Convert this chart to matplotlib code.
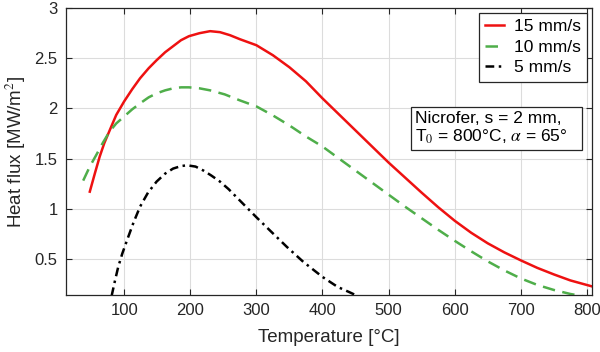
import matplotlib
matplotlib.use("Agg")
import matplotlib.pyplot as plt
from matplotlib.patches import Rectangle

plt.rcParams['font.family'] = ['Liberation Sans', 'DejaVu Sans']
plt.rcParams['mathtext.fontset'] = 'stix'

# Data
t15 = [48, 56, 63, 70, 78, 88, 100, 112, 124, 137, 149, 162, 174, 186, 198, 214, 230, 245, 260, 275, 300,
       325, 350, 375, 400, 425, 450, 475, 500, 525, 550, 575, 600, 625, 650, 675, 700, 725, 750, 775, 808]
q15 = [1.17, 1.36, 1.52, 1.655, 1.78, 1.935, 2.07, 2.19, 2.30, 2.40, 2.48, 2.56, 2.62, 2.68, 2.72, 2.75, 2.77, 2.76, 2.73, 2.69, 2.63,
       2.53, 2.41, 2.27, 2.10, 1.94, 1.78, 1.62, 1.46, 1.31, 1.16, 1.015, 0.88, 0.76, 0.655, 0.565, 0.485, 0.41, 0.345, 0.285, 0.225]

t10 = [38, 48, 59, 68, 78, 88, 100, 112, 124, 137, 149, 162, 174, 186, 198, 214, 230, 252, 275, 300,
       325, 350, 375, 400, 425, 450, 475, 500, 525, 550, 575, 600, 625, 650, 675, 700, 725, 750, 775, 800]
q10 = [1.28, 1.42, 1.55, 1.66, 1.77, 1.85, 1.92, 1.99, 2.05, 2.11, 2.15, 2.18, 2.20, 2.21, 2.21, 2.20, 2.18, 2.14, 2.08, 2.02,
       1.93, 1.83, 1.72, 1.62, 1.50, 1.38, 1.26, 1.14, 1.02, 0.905, 0.79, 0.68, 0.575, 0.475, 0.385, 0.305, 0.24, 0.19, 0.15, 0.12]

t5 = [81, 86, 91, 97, 104, 114, 124, 136, 149, 162, 174, 186, 195, 208, 220, 232, 245, 258, 270, 285, 300,
      321, 346, 371, 400, 423, 440, 453]
q5 = [0.13, 0.28, 0.42, 0.55, 0.68, 0.86, 1.02, 1.16, 1.27, 1.35, 1.40, 1.425, 1.433, 1.42, 1.38, 1.33, 1.27, 1.195, 1.115, 1.015, 0.915,
      0.78, 0.62, 0.47, 0.32, 0.22, 0.17, 0.13]

labels = ['15 mm/s', '10 mm/s', '5 mm/s']
xticks = [100, 200, 300, 400, 500, 600, 700, 800]
yticks = [0.5, 1, 1.5, 2, 2.5, 3]
yticklabels = ['0.5', '1', '1.5', '2', '2.5', '3']
note = 'Nicrofer, s = 2 mm,\nT$_0$ = 800°C, $\\alpha$ = 65°'

fig = plt.figure(figsize=(6, 3.52), dpi=100)
ax = fig.add_axes([0.11, 0.162, 0.877, 0.815])

ax.plot(t15, q15, color='#ee1111', lw=1.8, ls='-', label=labels[0])
ax.plot(t10, q10, color='#4fae4a', lw=1.8, ls=(0, (5, 3)), label=labels[1])
ax.plot(t5, q5, color='black', lw=1.8, ls=(0, (3.5, 1.8, 1, 1.8)), label=labels[2])

ax.set_xlim(12, 808)
ax.set_ylim(0.14, 3)
ax.set_xticks(xticks)
ax.set_xticklabels([str(v) for v in xticks])
ax.set_yticks(yticks)
ax.set_yticklabels(yticklabels)
ax.grid(True, color='#dcdcdc', lw=0.8)
ax.set_axisbelow(True)
ax.tick_params(direction='in', top=True, right=True, length=4, width=0.8,
               colors='#262626', labelsize=12, pad=6)
for s in ax.spines.values():
    s.set_color('#262626')
    s.set_linewidth(0.9)

ax.set_xlabel('Temperature [°C]', fontsize=13.5, color='#262626', labelpad=8)
ax.set_ylabel('Heat flux [MW/m$^2$]', fontsize=13.5, color='#262626', labelpad=5)

leg = ax.legend(loc='upper right', bbox_to_anchor=(0.9895, 0.9836), fontsize=12.5,
                handlelength=1.1, handletextpad=0.55, labelspacing=0.32,
                borderpad=0.35, borderaxespad=0, fancybox=False, framealpha=1,
                edgecolor='#262626')
leg.get_frame().set_linewidth(0.9)

ax.add_patch(Rectangle((0.656, 0.506), 0.325, 0.150, transform=ax.transAxes,
                       fc='white', ec='#262626', lw=0.9, zorder=5))
ax.text(0.6635, 0.581, note, transform=ax.transAxes, fontsize=12.5,
        va='center', ha='left', linespacing=1.15, zorder=6)

fig.savefig('out.png', dpi=100)
